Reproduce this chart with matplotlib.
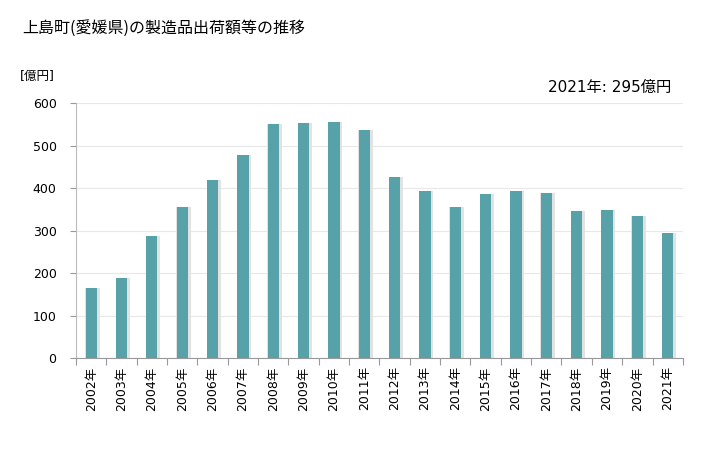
import numpy as np
import matplotlib.pyplot as plt

plt.rcParams['font.family'] = ['DejaVu Sans', 'Noto Sans CJK JP']

# ==== DATA ====
years = [2002, 2003, 2004, 2005, 2006, 2007, 2008, 2009, 2010, 2011,
         2012, 2013, 2014, 2015, 2016, 2017, 2018, 2019, 2020, 2021]
values = [165, 188, 287, 356, 419, 478, 551, 553, 556, 537,
          426, 393, 356, 386, 393, 389, 346, 349, 334, 295]
tick_labels = [f"{y}年" for y in years]

# ==== PARAMETERS ====
bar_color = "#57a1a8"
shadow_color = "#e2e2e2"
grid_color = "#e8e8e8"
axis_color = "#999999"
bar_width = 0.37

# ==== PLOT ====
fig = plt.figure(figsize=(7.28, 4.5), dpi=100)
ax = fig.add_axes([0.1044, 0.2044, 0.8336, 0.5666])
ax.set_axisbelow(True)

x = np.arange(len(years))
# soft shadow around/right of each bar
ax.bar(x + 0.04, values, width=bar_width + 0.1, color=shadow_color, zorder=2)
ax.bar(x, values, width=bar_width, color=bar_color, zorder=3)

ax.set_xlim(-0.5, len(years) - 0.5)
ax.set_ylim(0, 600)
ax.set_yticks(range(0, 601, 100))
ax.yaxis.grid(True, color=grid_color, linewidth=0.8)

# x ticks sit between categories, labels under the bars
ax.set_xticks(np.arange(-0.5, len(years), 1.0))
ax.set_xticklabels([])
ax.set_xticks(x, minor=True)
ax.set_xticklabels(tick_labels, minor=True, rotation=90, fontsize=9)
ax.tick_params(axis='x', which='minor', length=0, pad=6)
ax.tick_params(axis='x', which='major', length=5, color=axis_color)
ax.tick_params(axis='y', length=4, color=axis_color, labelsize=9, pad=10)

for s in ['top', 'right']:
    ax.spines[s].set_visible(False)
ax.spines['left'].set_color("#bbbbbb")
ax.spines['bottom'].set_color(axis_color)

fig.text(22 / 728, 1 - 28 / 450, "上島町(愛媛県)の製造品出荷額等の推移",
         fontsize=11.5, va='center', ha='left', family=['Noto Sans CJK JP', 'DejaVu Sans'])
fig.text(20 / 728, 1 - 76 / 450, "[億円]", fontsize=9, va='center', ha='left')
fig.text(671 / 728, 1 - 87 / 450, f"{years[-1]}年: {values[-1]}億円",
         fontsize=11, va='center', ha='right')

fig.savefig("out.png", dpi=100)
